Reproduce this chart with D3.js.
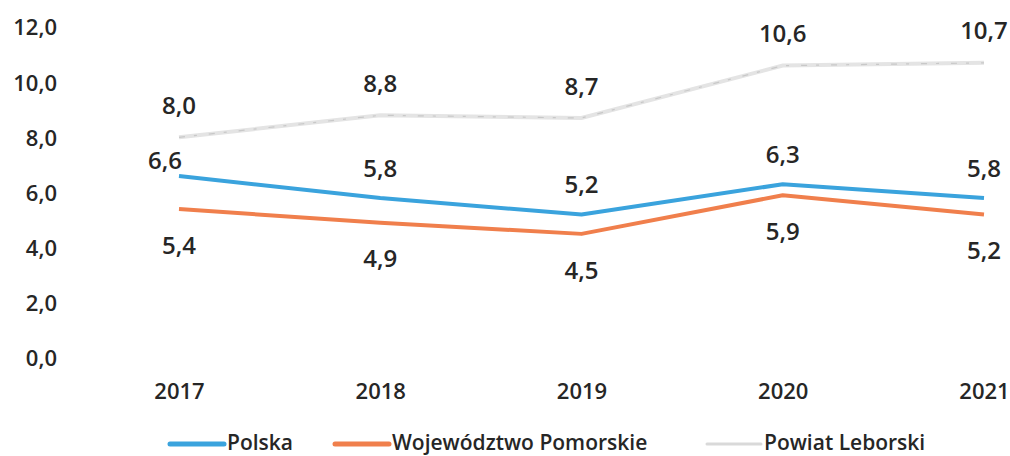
<!DOCTYPE html>
<html>
<head>
<meta charset="utf-8">
<script src="https://cdn.jsdelivr.net/npm/d3@7"></script>
<style>
  body { margin: 0; background: #fff; }
  svg text { font-family: "Open Sans", sans-serif; fill: #262626; font-weight: 600; }
</style>
</head>
<body>
<div id="chart" style="width:1010px;height:456px"></div>
<script>
var years = ["2017", "2018", "2019", "2020", "2021"];
var polska = [6.6, 5.8, 5.2, 6.3, 5.8];
var pomorskie = [5.4, 4.9, 4.5, 5.9, 5.2];
var leborski = [8.0, 8.8, 8.7, 10.6, 10.7];
var yTicks = [0, 2, 4, 6, 8, 10, 12];
var seriesNames = ["Polska", "Województwo Pomorskie", "Powiat Leborski"];

var fmt = function(v) { return v.toFixed(1).replace(".", ","); };

var svg = d3.select("#chart").append("svg")
    .attr("width", 1010)
    .attr("height", 456);

var xScale = d3.scalePoint().domain(years).range([179, 984]);
var yScale = d3.scaleLinear().domain([0, 12]).range([358, 27]);

// y tick labels (no axis line or grid in the original)
var yAxis = d3.axisLeft(yScale).tickValues(yTicks).tickFormat(fmt).tickSize(0).tickPadding(0);
var gY = svg.append("g").attr("transform", "translate(57,0)").call(yAxis);
gY.select(".domain").remove();
gY.selectAll("text").style("font-size", "22px").attr("dy", "0.36em");

var xAxis = d3.axisBottom(xScale).tickSize(0).tickPadding(0);
var gX = svg.append("g").attr("transform", "translate(0,382)").call(xAxis);
gX.select(".domain").remove();
gX.selectAll("text").style("font-size", "22px").attr("dy", "0.75em");

var line = d3.line()
    .x(function(d, i) { return xScale(years[i]); })
    .y(function(d) { return yScale(d); });

var series = [
    {name: seriesNames[0], values: polska, color: "#3aa3dd", labelDy: -30},
    {name: seriesNames[1], values: pomorskie, color: "#f07f4c", labelDy: 36},
    {name: seriesNames[2], values: leborski, color: "#d9d9d9", labelDy: -32}
];

// gray line, a bit washed out like the scan
svg.append("path")
    .datum(leborski)
    .attr("fill", "none")
    .attr("stroke", "#e4e4e4")
    .attr("stroke-width", 4)
    .attr("d", line);
svg.append("path")
    .datum(leborski)
    .attr("fill", "none")
    .attr("stroke", "#b5b5b5")
    .attr("stroke-width", 1.2)
    .attr("stroke-dasharray", "6,9,3,12")
    .attr("opacity", 0.6)
    .attr("d", line);

[series[1], series[0]].forEach(function(s) {
    svg.append("path")
        .datum(s.values)
        .attr("fill", "none")
        .attr("stroke", s.color)
        .attr("stroke-width", 4)
        .attr("stroke-linejoin", "round")
        .attr("d", line);
});

// data labels
series.forEach(function(s, k) {
    svg.append("g").selectAll("text")
        .data(s.values)
        .enter().append("text")
        .attr("x", function(d, i) {
            // first Polska label sits left of the point, squeezed under the gray one
            if (k === 0 && i === 0) return xScale(years[i]) - 14;
            return xScale(years[i]);
        })
        .attr("y", function(d, i) {
            if (k === 0 && i === 0) return yScale(d) - 16;
            return yScale(d) + s.labelDy;
        })
        .attr("dy", "0.36em")
        .attr("text-anchor", "middle")
        .style("font-size", "24px")
        .text(fmt);
});

// legend
var legendX = [170, 335, 707];
var legend = svg.append("g");
[series[0], series[1], series[2]].forEach(function(s, i) {
    var g = legend.append("g").attr("transform", "translate(" + legendX[i] + ",444)");
    g.append("line")
        .attr("x1", 0).attr("x2", 54)
        .attr("stroke", s.color)
        .attr("stroke-width", i === 2 ? 3 : 5)
        .attr("stroke-linecap", "round");
    g.append("text")
        .attr("x", 57)
        .attr("y", 6)
        .style("font-size", "21px")
        .text(s.name);
});
</script>
</body>
</html>
